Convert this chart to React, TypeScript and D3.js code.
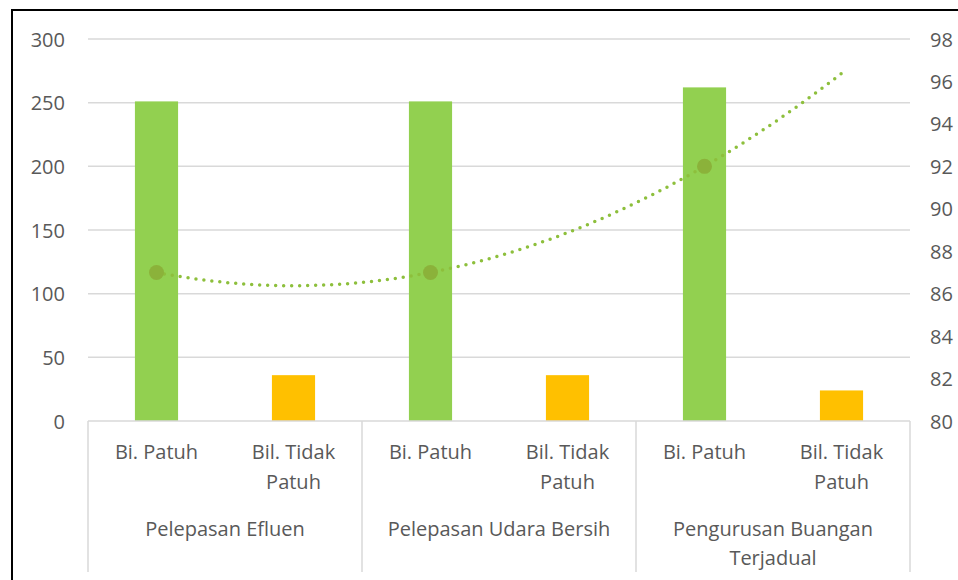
import * as d3 from "d3";

const groups = ["Pelepasan Efluen", "Pelepasan Udara Bersih", "Pengurusan Buangan Terjadual"];
const groupLabelLines = [["Pelepasan Efluen"], ["Pelepasan Udara Bersih"], ["Pengurusan Buangan", "Terjadual"]];
const subCategories = ["Bi. Patuh", "Bil. Tidak Patuh"];
const subLabelLines = [["Bi. Patuh"], ["Bil. Tidak", "Patuh"]];

const patuh = [251, 251, 262];
const tidakPatuh = [36, 36, 24];
const peratus = [87, 87, 92]; // line on right axis, plotted at the "Bi. Patuh" slots

const leftTicks = [0, 50, 100, 150, 200, 250, 300];
const rightTicks = [80, 82, 84, 86, 88, 90, 92, 94, 96, 98];

const WIDTH = 958;
const HEIGHT = 580;
const PLOT = { left: 88, right: 910, top: 39, bottom: 421 };
const TEXT = "#595959";
const GRID = "#d9d9d9";
const FONT = "'Open Sans', sans-serif";

// quadratic least squares fit (Excel polynomial trendline, order 2)
const polyFit2 = (xs: number[], ys: number[]) => {
  const n = xs.length;
  const s = (p: number) => d3.sum(xs, (x) => Math.pow(x, p));
  const t = (p: number) => d3.sum(xs, (x, i) => Math.pow(x, p) * ys[i]);
  const m = [
    [n, s(1), s(2)],
    [s(1), s(2), s(3)],
    [s(2), s(3), s(4)],
  ];
  const v = [t(0), t(1), t(2)];
  const det = (a: number[][]) =>
    a[0][0] * (a[1][1] * a[2][2] - a[1][2] * a[2][1]) -
    a[0][1] * (a[1][0] * a[2][2] - a[1][2] * a[2][0]) +
    a[0][2] * (a[1][0] * a[2][1] - a[1][1] * a[2][0]);
  const D = det(m);
  const coef = [0, 1, 2].map((c) => {
    const mc = m.map((row, r) => row.map((val, k) => (k === c ? v[r] : val)));
    return det(mc) / D;
  });
  return (x: number) => coef[0] + coef[1] * x + coef[2] * x * x;
};

const App = () => {
  const slots = groups.flatMap((g) => subCategories.map((s) => `${g}|${s}`));
  const values = groups.flatMap((_, i) => [patuh[i], tidakPatuh[i]]);

  const xScale = d3.scaleBand<string>().domain(slots).range([PLOT.left, PLOT.right]).padding(0);
  const barWidth = xScale.bandwidth() * 0.315;
  const cx = (i: number) => xScale(slots[i])! + xScale.bandwidth() / 2;

  const yLeft = d3.scaleLinear().domain([0, 300]).range([PLOT.bottom, PLOT.top]);
  const yRight = d3.scaleLinear().domain([80, 98]).range([PLOT.bottom, PLOT.top]);

  const linePts = peratus.map((v, i) => ({ idx: i * 2, v }));
  const fit = polyFit2(linePts.map((p) => p.idx), linePts.map((p) => p.v));
  const trendData = d3.range(0, slots.length - 1 + 0.001, 0.05).map((x) => ({ x, y: fit(x) }));
  const idxScale = d3.scaleLinear().domain([0, slots.length - 1]).range([cx(0), cx(slots.length - 1)]);
  const trendPath = d3
    .line<{ x: number; y: number }>()
    .x((d) => idxScale(d.x))
    .y((d) => yRight(d.y))
    .curve(d3.curveLinear)(trendData);

  const groupWidth = (PLOT.right - PLOT.left) / groups.length;
  const bottomLine = 572;

  return (
    <svg
      width={WIDTH}
      height={HEIGHT}
      style={{ position: "absolute", left: 0, top: 0, background: "white" }}
      fontFamily={FONT}
    >
      <rect x={12} y={10} width={1000} height={700} fill="none" stroke="black" strokeWidth={2} />

      {/* gridlines */}
      {leftTicks.slice(1).map((t) => (
        <line key={t} x1={PLOT.left} x2={PLOT.right} y1={yLeft(t)} y2={yLeft(t)} stroke={GRID} strokeWidth={1.5} />
      ))}

      {/* left axis labels */}
      {leftTicks.map((t) => (
        <text key={t} x={65} y={yLeft(t)} textAnchor="end" dominantBaseline="central" fontSize={20} fill={TEXT}>
          {t}
        </text>
      ))}

      {/* right axis labels */}
      {rightTicks.map((t) => (
        <text key={t} x={930} y={yRight(t)} textAnchor="start" dominantBaseline="central" fontSize={20} fill={TEXT}>
          {t}
        </text>
      ))}

      {/* bars */}
      {values.map((v, i) => (
        <rect
          key={i}
          x={cx(i) - barWidth / 2}
          y={yLeft(v)}
          width={barWidth}
          height={yLeft(0) - yLeft(v)}
          fill={i % 2 === 0 ? "#92d050" : "#ffc000"}
        />
      ))}

      {/* category axis */}
      <line x1={PLOT.left} x2={PLOT.right} y1={PLOT.bottom} y2={PLOT.bottom} stroke={GRID} strokeWidth={1.5} />
      {d3.range(groups.length + 1).map((g) => (
        <line
          key={g}
          x1={PLOT.left + g * groupWidth}
          x2={PLOT.left + g * groupWidth}
          y1={PLOT.bottom}
          y2={bottomLine}
          stroke={GRID}
          strokeWidth={1.5}
        />
      ))}
      {slots.map((s, i) => (
        <text key={s} textAnchor="middle" fontSize={20} fill={TEXT}>
          {subLabelLines[i % 2].map((ln, k) => (
            <tspan key={k} x={cx(i)} y={451 + k * 30} dominantBaseline="central">
              {ln}
            </tspan>
          ))}
        </text>
      ))}
      {groupLabelLines.map((lines, g) => (
        <text key={g} textAnchor="middle" fontSize={20} fill={TEXT}>
          {lines.map((ln, k) => (
            <tspan key={k} x={PLOT.left + (g + 0.5) * groupWidth} y={528 + k * 29} dominantBaseline="central">
              {ln}
            </tspan>
          ))}
        </text>
      ))}

      {/* trendline */}
      <path
        d={trendPath!}
        fill="none"
        stroke="#8dbf3c"
        strokeWidth={3.5}
        strokeLinecap="round"
        strokeDasharray="0 8"
      />

      {/* line markers */}
      {linePts.map((p) => (
        <circle key={p.idx} cx={cx(p.idx)} cy={yRight(p.v)} r={7.5} fill="#8bb23a" />
      ))}
    </svg>
  );
};

export default App;
